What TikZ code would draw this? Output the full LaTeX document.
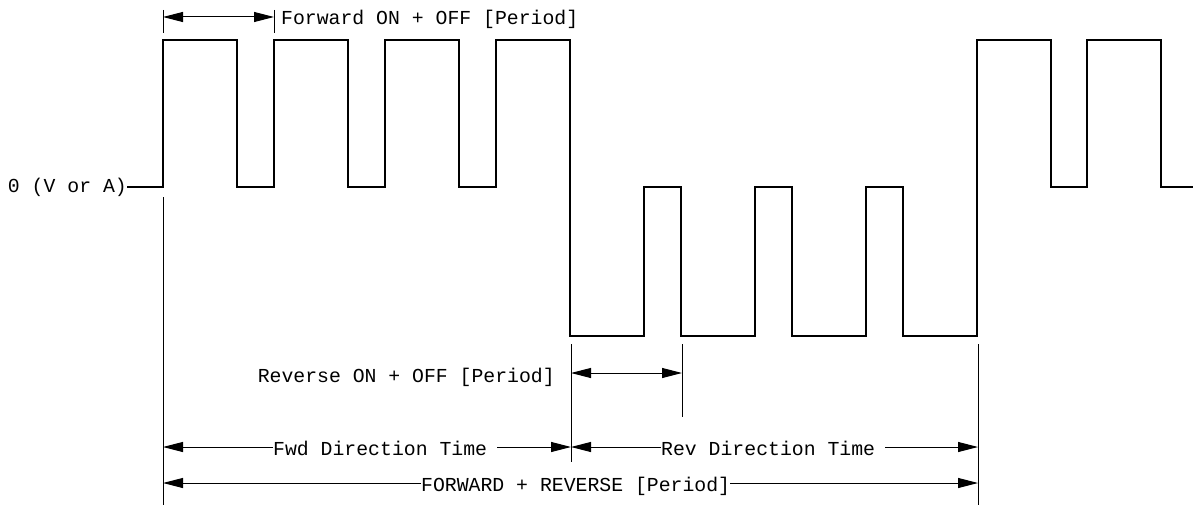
\documentclass[tikz,border=0pt]{standalone}
\usepackage{fontspec}
\newfontfamily\cadfont{Liberation Mono}
\usetikzlibrary{arrows.meta,positioning,calc}
\tikzset{wave/.style={line width=1.2pt,line join=miter},ext/.style={line width=1pt},dim/.style={-{Triangle[length=20pt,width=10pt]},line width=1pt},ddim/.style={{Triangle[length=20pt,width=10pt]}-{Triangle[length=20pt,width=10pt]},line width=1pt},lbl/.style={font=\cadfont\fontsize{19.8}{22}\selectfont,inner sep=0pt}}

\begin{document}
\begin{tikzpicture}[x=1pt,y=-1pt]
\useasboundingbox (0,0) rectangle (1193,508);
% levels: high 40, zero 187, low 336
\node[lbl,anchor=base east] (zl) at (127,192) {0 (V or A)};
\coordinate (z0) at (127,187);
\draw[wave] (z0) -- (163,187) foreach \i in {1,2,3}{ -- ++(0,-147) -- ++(74,0) -- ++(0,147) -- ++(37,0)} -- ++(0,-147) -- ++(74,0) -- ++(0,296)
  foreach \i in {1,2,3}{ -- ++(74,0) -- ++(0,-149) -- ++(37,0) -- ++(0,149)} -- ++(74,0) -- ++(0,-296)
  -- ++(74,0) -- ++(0,147) -- ++(36,0) -- ++(0,-147) -- ++(74,0) -- ++(0,147) -- (1193,187);
% extension lines
\draw[ext] (163,10)--(163,33) (274,10)--(274,33);
\draw[ext] (163,197)--(163,505) (571,344)--(571,462) (682,344)--(682,417) (978,344)--(978,505);
\coordinate (a1) at (163,447);\coordinate (a2) at (571,447);\coordinate (a3) at (978,447);
\coordinate (b1) at (163,483);\coordinate (b2) at (978,483);
% periods
\coordinate (p1) at (163,17);\coordinate (p2) at (274,17);
\draw[ddim] (p1)--(p2);
\node[lbl,anchor=base west] (fwdp) at (281,25) {Forward ON + OFF [Period]};
\coordinate (r1) at (571,373);\coordinate (r2) at (682,373);
\draw[ddim] (r1)--(r2);
\node[lbl,anchor=base east] (revp) at (555,382) {Reverse ON + OFF [Period]};
% direction times
\node[lbl,anchor=base west] (fwdt) at (273,455) {Fwd Direction Time\kern10pt};
\draw[dim] (fwdt.west |- a1)--(a1);\draw[dim] (fwdt.east |- a1)--(a2);
\node[lbl,anchor=base west] (revt) at (661,455) {Rev Direction Time\kern10pt};
\draw[dim] (revt.west |- a2)--(a2);\draw[dim] (revt.east |- a3)--(a3);
\node[lbl,anchor=base west] (totp) at (421,491) {FORWARD + REVERSE [Period]};
\draw[dim] (totp.west |- b1)--(b1);\draw[dim] (totp.east |- b2)--(b2);
\end{tikzpicture}
\end{document}
